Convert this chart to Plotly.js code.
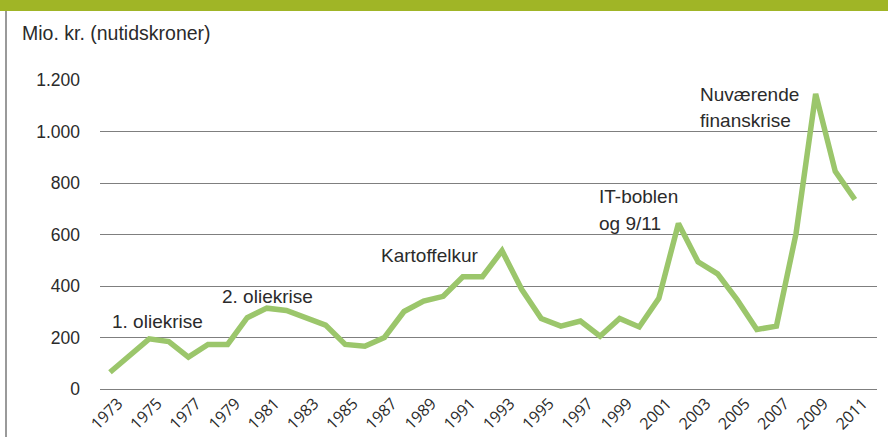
<!DOCTYPE html>
<html>
<head>
<meta charset="utf-8">
<script src="https://cdn.plot.ly/plotly-3.0.1.min.js"></script>
<style>
  html, body { margin: 0; padding: 0; background: #fff; }
  #wrap { position: relative; width: 888px; height: 437px; overflow: hidden; }
  #topbar { position: absolute; left: 0; top: 0; width: 888px; height: 11px; background: #a0b526; }
  #leftline { position: absolute; left: 5px; top: 11px; width: 2px; height: 426px; background: #9a9a9a; }
  #chart { position: absolute; left: 0; top: 0; width: 888px; height: 437px; }
</style>
</head>
<body>
<div id="wrap">
  <div id="chart"></div>
  <div id="topbar"></div>
  <div id="leftline"></div>
</div>
<script>
const years = [1973,1974,1975,1976,1977,1978,1979,1980,1981,1982,1983,1984,1985,1986,1987,1988,1989,1990,1991,1992,1993,1994,1995,1996,1997,1998,1999,2000,2001,2002,2003,2004,2005,2006,2007,2008,2009,2010,2011];
const values = [65,128,195,184,124,173,173,277,314,305,275,248,173,166,200,301,341,360,436,436,537,387,274,244,264,205,274,241,352,643,494,447,346,231,244,604,1146,845,736];
const xTickVals = [1973,1975,1977,1979,1981,1983,1985,1987,1989,1991,1993,1995,1997,1999,2001,2003,2005,2007,2009,2011];
const xTickText = ["1973","1975","1977","1979","1981","1983","1985","1987","1989","1991","1993","1995","1997","1999","2001","2003","2005","2007","2009","2011"];
const yTickVals = [0,200,400,600,800,1000,1200];
const yTickText = ["0","200","400","600","800","1.000","1.200"];
const eventLabels = ["1. oliekrise","2. oliekrise","Kartoffelkur","IT-boblen","og 9/11","Nuværende","finanskrise"];
const eventX = [1973, 1978.6, 1986.7, 1997.85, 1997.85, 2003.0, 2003.0];
const eventY = [261, 361, 520, 746, 641, 1142, 1042];

const trace = {
  x: years, y: values, type: 'scatter', mode: 'lines',
  line: { color: '#9bc66b', width: 5.5, shape: 'linear' },
  hoverinfo: 'skip'
};

const annFont = { family: 'Liberation Sans, Arial, sans-serif', size: 19, color: '#2b2b2b' };
const annotations = eventLabels.map((t, i) => ({
  x: eventX[i], y: eventY[i], xref: 'x', yref: 'y', text: t,
  showarrow: false, xanchor: 'left', yanchor: 'middle', font: annFont
}));

const layout = {
  width: 888, height: 437,
  margin: { l: 100, r: 11, t: 80, b: 48, pad: 0 },
  paper_bgcolor: '#ffffff', plot_bgcolor: '#ffffff',
  showlegend: false,
  title: {
    text: 'Mio. kr. (nutidskroner)',
    x: 22/888, xref: 'container', xanchor: 'left',
    y: 1 - 33/437, yref: 'container', yanchor: 'middle',
    font: { family: 'Liberation Sans, Arial, sans-serif', size: 19.5, color: '#2b2b2b' }
  },
  xaxis: {
    type: 'linear', range: [1972.49, 2012.13],
    tickmode: 'array', tickvals: xTickVals, ticktext: xTickText,
    tickangle: -45, ticks: '', showgrid: false, zeroline: false,
    showline: false, ticklabelstandoff: 1, ticklabelshift: 8,
    tickfont: { family: 'Open Sans, sans-serif', size: 16, color: '#2b2b2b' },
    fixedrange: true
  },
  yaxis: {
    range: [0, 1200],
    tickmode: 'array', tickvals: yTickVals, ticktext: yTickText,
    showgrid: true, gridcolor: '#7f7f7f', gridwidth: 1,
    zeroline: true, zerolinecolor: '#7f7f7f', zerolinewidth: 1,
    ticks: '', ticklabelstandoff: 19,
    tickfont: { family: 'Liberation Sans, Arial, sans-serif', size: 17.5, color: '#2b2b2b' },
    fixedrange: true
  },
  annotations: annotations
};

Plotly.newPlot('chart', [trace], layout, { displayModeBar: false, staticPlot: true });
</script>
</body>
</html>
